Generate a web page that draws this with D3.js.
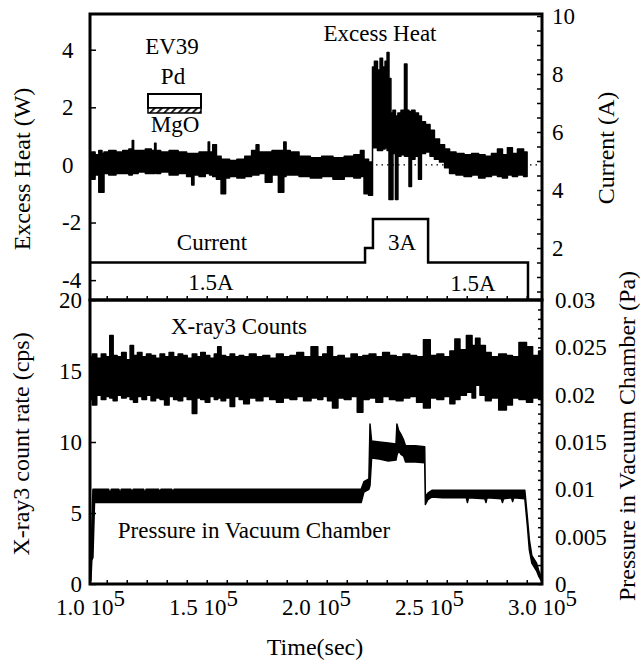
<!DOCTYPE html>
<meta charset="utf-8">
<style>
body { margin: 0; background: #fff; }
text { font-family: "Liberation Serif", "Times New Roman", serif; font-size: 23px; fill: #000; }
.axis path.domain { display: none; }
.axis line { stroke: #000; stroke-width: 1.5px; }
.axis text { font-size: 23px; font-family: "Liberation Serif", serif; }
.title { font-size: 24px; }
.frame { fill: none; stroke: #000; stroke-width: 3px; }
.band { fill: #000; stroke: #000; stroke-width: 1.5px; stroke-linejoin: round; }
</style>
<svg width="641" height="665"></svg>
<script src="https://d3js.org/d3.v7.min.js"></script>
<script>

// time in 10^3 s
var heatTime = [100.0,101.5,103.0,104.8,105.8,106.6,110.0,113.0,116.0,118.4,119.0,119.6,123.0,126.0,128.3,128.9,129.5,133.0,137.0,141.0,144.5,145.5,146.5,150.0,152.0,152.6,153.2,155.4,156.5,159.5,160.5,163.0,167.0,170.0,173.0,174.0,175.5,179.6,181.5,185.2,186.3,187.2,190.0,195.0,200.0,205.0,210.0,215.0,218.5,220.8,221.7,224.8,225.2,226.5,227.9,228.8,230.1,231.0,231.9,232.7,233.6,234.5,235.8,236.7,238.5,239.8,240.7,241.6,242.9,244.7,246.0,247.3,249.6,251.3,253.5,255.8,258.0,260.2,263.7,267.3,270.4,273.5,276.1,279.2,281.4,283.6,285.8,288.0,290.3,293.4];
var heatHigh = [0.30,0.45,0.35,0.50,0.40,0.45,0.50,0.45,0.50,0.55,0.85,0.50,0.50,0.55,0.50,0.75,0.50,0.45,0.50,0.45,0.40,0.40,0.40,0.45,0.45,0.80,0.45,0.70,0.30,0.20,0.20,0.15,0.20,0.30,0.50,0.70,0.45,0.45,0.50,0.50,0.80,0.50,0.45,0.30,0.25,0.30,0.25,0.30,0.35,0.50,0.20,0.10,3.40,3.60,3.30,3.70,3.40,3.60,3.90,3.00,1.80,1.90,1.70,1.80,1.90,3.50,1.90,1.85,1.90,1.80,1.70,1.50,1.40,1.20,0.90,0.70,0.55,0.45,0.40,0.35,0.40,0.35,0.30,0.40,0.55,0.35,0.60,0.40,0.55,0.45];
var heatLow = [-0.40,-0.50,-0.35,-0.95,-0.95,-0.30,-0.35,-0.30,-0.30,-0.35,-0.30,-0.30,-0.25,-0.30,-0.30,-0.25,-0.30,-0.25,-0.35,-0.30,-0.40,-0.70,-0.35,-0.40,-0.30,-0.30,-0.35,-0.40,-0.50,-1.00,-0.45,-0.40,-0.45,-0.40,-0.35,-0.35,-0.30,-0.60,-0.35,-0.95,-0.40,-0.35,-0.35,-0.40,-0.45,-0.40,-0.50,-0.40,-0.45,-0.40,-1.00,-1.05,0.60,0.60,0.50,0.50,0.55,0.60,0.50,-1.20,-1.20,0.40,-1.20,0.30,0.35,0.30,0.30,-0.75,0.20,0.30,-0.50,0.40,0.45,0.30,0.20,0.10,-0.10,-0.30,-0.35,-0.40,-0.35,-0.45,-0.40,-0.35,-0.40,-0.45,-0.35,-0.40,-0.35,-0.40];

var currentTime = [100.0, 221.7, 225.2, 249.6, 293.8, 300.0];
var currentAmps = [1.5, 2.0, 3.0, 1.5, 0, 0];

var xrayTime = [100,102,104,106,108,109.5,111,113,115,117,118.5,120,122,124,126,128,130,132,134,136,138,140,142,144,146.5,148,150,152,154,156,157,159,161,163,165,167,169,172,175,178,181,184,187,190,193,196,199.6,202,204,206.2,208.4,211,214,217,219.5,222,225,228,231,234,237,240,243,246,249.1,252,255,258,260.5,262.4,265,268.1,270,271.2,273.9,276,279,282.7,285.8,288,291.6,294.7,297,300];
var xrayHigh = [16.0,16.2,15.9,16.2,16.0,17.5,16.1,16.0,16.3,15.8,16.8,16.1,16.3,16.0,16.2,16.1,15.9,16.2,16.0,16.3,16.0,16.2,16.1,15.9,16.2,16.0,16.3,16.1,15.9,16.2,16.7,16.1,16.0,16.2,16.0,16.1,16.0,16.2,16.0,16.1,15.9,16.2,16.0,16.1,16.3,16.0,16.7,16.0,16.2,16.7,16.0,16.1,15.9,16.2,16.0,16.1,16.2,16.0,16.3,16.1,16.0,16.2,16.1,16.0,17.2,16.1,16.2,16.0,16.4,17.25,16.5,17.5,16.8,17.3,16.8,16.3,16.0,16.2,16.1,16.0,17.0,16.7,16.1,16.4];
var xrayLow = [13.0,12.6,13.3,13.0,13.2,13.1,12.9,13.3,13.1,13.2,13.0,12.8,13.2,13.0,13.3,12.9,13.1,13.0,12.6,13.2,13.0,12.9,13.2,13.0,12.0,13.1,13.0,12.8,13.2,13.0,13.1,12.9,13.1,12.5,13.2,13.0,12.7,13.1,12.9,13.2,13.0,12.8,13.1,13.0,13.2,12.9,13.1,13.0,13.2,12.9,12.4,13.1,13.0,13.2,12.1,13.0,13.1,12.8,13.2,13.0,12.9,13.1,13.2,12.8,12.4,13.1,13.0,13.2,12.7,13.0,13.3,13.5,13.1,14.0,13.3,12.9,13.1,12.25,12.6,13.1,13.0,12.8,13.1,13.0];

var pressureTime = [100.0,100.4,100.8,101.3,102.0,108.3,108.8,109.4,112.8,113.3,113.8,118.1,118.6,119.1,123.8,124.3,124.8,130.4,130.9,131.4,136.2,136.7,137.2,220.0,221.2,223.4,223.9,224.6,228.0,232.0,235.4,235.8,236.6,237.6,238.8,239.6,244.0,248.1,248.4,249.5,251.3,256.0,262.0,266.5,267.0,267.5,274.7,275.2,275.7,282.0,282.5,283.0,286.5,287.0,287.5,292.4,293.5,294.4,295.5,297.6,298.6,300.0];
var pressureHigh = [0.0008,0.0030,0.0060,0.0100,0.0100,0.0100,0.0095,0.0100,0.0100,0.0095,0.0100,0.0100,0.0096,0.0100,0.0100,0.0095,0.0100,0.0100,0.0096,0.0100,0.0100,0.0096,0.0100,0.0100,0.0108,0.0111,0.0169,0.0151,0.0150,0.0149,0.0148,0.0169,0.0162,0.0158,0.0152,0.0146,0.0146,0.0145,0.0092,0.0096,0.0099,0.0099,0.0099,0.0099,0.0099,0.0099,0.0099,0.0099,0.0099,0.0099,0.0099,0.0099,0.0099,0.0099,0.0099,0.0099,0.0071,0.0047,0.0030,0.0022,0.0014,0.0005];
var pressureLow = [0.0002,0.0004,0.0025,0.0028,0.0086,0.0086,0.0086,0.0086,0.0086,0.0086,0.0086,0.0086,0.0086,0.0086,0.0086,0.0086,0.0086,0.0086,0.0086,0.0086,0.0086,0.0086,0.0086,0.0086,0.0097,0.0100,0.0104,0.0133,0.0132,0.0130,0.0131,0.0136,0.0141,0.0137,0.0135,0.0129,0.0129,0.0128,0.0084,0.0089,0.0092,0.0091,0.0091,0.0091,0.0086,0.0091,0.0090,0.0086,0.0091,0.0090,0.0086,0.0090,0.0091,0.0087,0.0091,0.0090,0.0062,0.0036,0.0022,0.0014,0.0008,0.0002];

var heatTicks = [-4, -2, 0, 2, 4];
var xrayTicks = [0, 5, 10, 15, 20];
var timeTicks = [1.0e5, 1.5e5, 2.0e5, 2.5e5, 3.0e5];

var svg = d3.select("svg");
var left = 90, right = 542, top1 = 14, mid = 300, bot = 584;

var x = d3.scaleLinear().domain([1e5, 3e5]).range([left, right]);
var yHeat = d3.scaleLinear().domain([-4.69, 5.24]).range([mid, top1]);
var yCur = d3.scaleLinear().domain([0, 10]).range([306, 16]);
var yXray = d3.scaleLinear().domain([0, 20]).range([bot, mid]);
var yPres = d3.scaleLinear().domain([0, 0.03]).range([bot, mid]);

svg.append("rect").attr("width", 641).attr("height", 665).attr("fill", "#fff");

var defs = svg.append("defs");
defs.append("clipPath").attr("id", "clipTop")
  .append("rect").attr("x", left).attr("y", top1).attr("width", right - left).attr("height", mid - top1);
defs.append("clipPath").attr("id", "clipBot")
  .append("rect").attr("x", left).attr("y", mid).attr("width", right - left).attr("height", bot - mid);
var hatch = defs.append("pattern").attr("id", "hatch")
  .attr("patternUnits", "userSpaceOnUse").attr("width", 5).attr("height", 5)
  .attr("patternTransform", "rotate(45)");
hatch.append("rect").attr("width", 5).attr("height", 5).attr("fill", "#fff");
hatch.append("line").attr("x1", 0).attr("y1", 0).attr("x2", 0).attr("y2", 5)
  .attr("stroke", "#000").attr("stroke-width", 3.5);

// top panel
var gTop = svg.append("g").attr("clip-path", "url(#clipTop)");

gTop.append("line")
  .attr("x1", left).attr("x2", right)
  .attr("y1", yHeat(0)).attr("y2", yHeat(0))
  .attr("stroke", "#000").attr("stroke-width", 1.2)
  .attr("stroke-dasharray", "1.5,4");

var heatArea = d3.area().curve(d3.curveStep)
  .x(function(i) { return x(heatTime[i] * 1e3); })
  .y0(function(i) { return yHeat(heatLow[i]); })
  .y1(function(i) { return yHeat(heatHigh[i]); });
gTop.append("path").attr("class", "band").attr("d", heatArea(d3.range(heatTime.length)));

var curLine = d3.line().curve(d3.curveStepAfter)
  .x(function(i) { return x(currentTime[i] * 1e3); })
  .y(function(i) { return yCur(currentAmps[i]); });
gTop.append("path").attr("d", curLine(d3.range(currentTime.length)))
  .attr("fill", "none").attr("stroke", "#000").attr("stroke-width", 2.5);

// bottom panel
var gBot = svg.append("g").attr("clip-path", "url(#clipBot)");

var xrayArea = d3.area().curve(d3.curveStep)
  .x(function(i) { return x(xrayTime[i] * 1e3); })
  .y0(function(i) { return yXray(xrayLow[i]); })
  .y1(function(i) { return yXray(xrayHigh[i]); });
gBot.append("path").attr("class", "band").attr("d", xrayArea(d3.range(xrayTime.length)));

var presArea = d3.area()
  .x(function(i) { return x(pressureTime[i] * 1e3); })
  .y0(function(i) { return yPres(pressureLow[i]); })
  .y1(function(i) { return yPres(pressureHigh[i]); });
gBot.append("path").attr("class", "band").attr("d", presArea(d3.range(pressureTime.length)));

// axes
var ax = svg.append("g").attr("class", "axis").attr("transform", "translate(" + left + ",0)")
  .call(d3.axisLeft(yHeat).tickValues(heatTicks).tickSize(-6).tickFormat(String));
ax.selectAll("text").attr("x", -28).attr("text-anchor", "start");

svg.append("g").attr("class", "axis").attr("transform", "translate(" + right + ",0)")
  .call(d3.axisRight(yCur).tickValues(d3.range(0.5, 10.01, 0.5)).tickSize(-5).tickPadding(10)
    .tickFormat(function(d) { return d % 2 === 0 ? d : ""; }));

svg.append("g").attr("class", "axis").attr("transform", "translate(" + left + ",0)")
  .call(d3.axisLeft(yXray).tickValues(xrayTicks).tickSize(-6).tickPadding(8).tickFormat(String));

svg.append("g").attr("class", "axis").attr("transform", "translate(" + right + ",0)")
  .call(d3.axisRight(yPres).tickValues(d3.range(0, 0.0301, 0.001)).tickSize(-4).tickPadding(13)
    .tickFormat(function(d) {
      return Math.round(d * 1000) % 5 === 0 ? d3.format("~g")(+d.toFixed(3)) : "";
    }));

var minorTime = d3.range(107.4e3, 3e5, 8.85e3);
[mid, bot].forEach(function(yy) {
  svg.append("g").attr("class", "axis").attr("transform", "translate(0," + yy + ")")
    .call(d3.axisBottom(x).tickValues(minorTime).tickSize(-4).tickFormat(""));
});

var xl = svg.append("g").attr("class", "axis").attr("transform", "translate(0," + bot + ")")
  .call(d3.axisBottom(x).tickValues(timeTicks).tickSize(0)
    .tickFormat(function(d) { return (d / 1e5).toFixed(1) + " 10"; }));
xl.selectAll("text").attr("y", 31).attr("dy", 0)
  .append("tspan").attr("dy", -9).text("5");

// frames
svg.append("rect").attr("class", "frame")
  .attr("x", left).attr("y", top1).attr("width", right - left).attr("height", mid - top1);
svg.append("rect").attr("class", "frame")
  .attr("x", left).attr("y", mid).attr("width", right - left).attr("height", bot - mid);

// sample sketch
svg.append("rect").attr("x", 148).attr("y", 94).attr("width", 53).attr("height", 14)
  .attr("fill", "#fff").attr("stroke", "#000").attr("stroke-width", 2);
svg.append("rect").attr("x", 148).attr("y", 108).attr("width", 53).attr("height", 5)
  .attr("fill", "url(#hatch)").attr("stroke", "#000").attr("stroke-width", 1.5);

function label(t, px, py, cls) {
  svg.append("text").attr("x", px).attr("y", py).attr("text-anchor", "middle")
    .attr("class", cls || null).text(t);
}
label("EV39", 172, 54);
label("Pd", 173, 84);
label("MgO", 175, 132);
label("Excess Heat", 380, 41);
label("Current", 212, 250);
label("1.5A", 211, 290);
label("3A", 402, 250);
label("1.5A", 473, 291);
label("X-ray3 Counts", 239, 334);
label("Pressure in Vacuum Chamber", 254, 538);
label("Time(sec)", 315, 655, "title");

function vlabel(t, px, py) {
  svg.append("text").attr("class", "title").attr("text-anchor", "middle")
    .attr("transform", "translate(" + px + "," + py + ") rotate(-90)").text(t);
}
vlabel("Excess Heat (W)", 30, 169);
vlabel("X-ray3 count rate (cps)", 29, 444);
vlabel("Current (A)", 614, 148);
vlabel("Pressure in Vacuum Chamber (Pa)", 635, 436);

</script>
